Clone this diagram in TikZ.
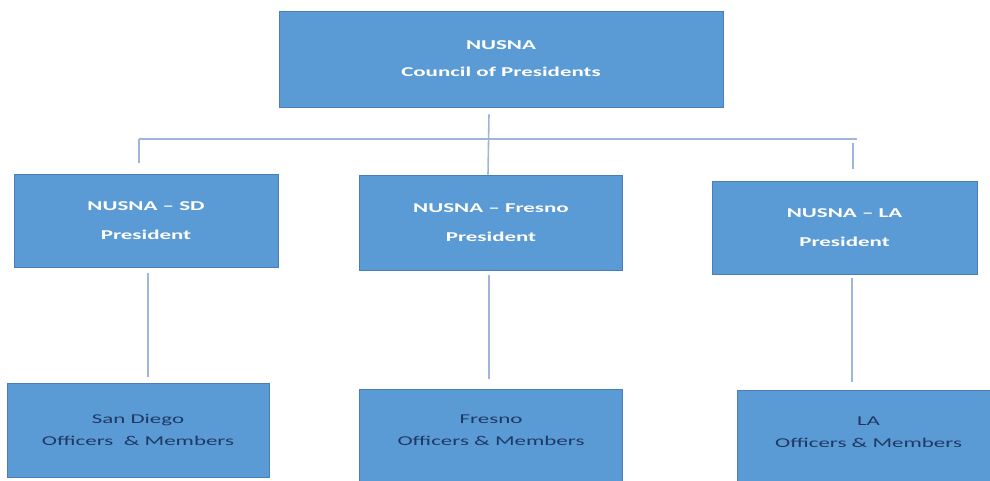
\documentclass[tikz,border=0pt]{standalone}
\usepackage{fontspec}
\setmainfont{Carlito}[FakeStretch=1.7]
\definecolor{boxfill}{HTML}{5B9BD5}
\definecolor{boxedge}{HTML}{4A7EBB}
\definecolor{linkcol}{HTML}{9FB6DA}
\definecolor{navy}{HTML}{1F3864}
\tikzset{
  box/.style={draw=boxedge, line width=0.8pt, fill=boxfill, inner sep=0pt, align=center},
  headtext/.style={text=white, font=\bfseries\fontsize{13.5}{27}\selectfont},
  midtext/.style={text=white, font=\bfseries\fontsize{13.5}{29}\selectfont},
  lowtext/.style={text=navy, align=center, inner sep=0pt, font=\fontsize{13.5}{22}\selectfont},
  link/.style={draw=linkcol, line width=1.6pt}
}
\begin{document}
\begin{tikzpicture}[x=1pt,y=-1pt]
\useasboundingbox (0,0) rectangle (990,481);
\clip (0,0) rectangle (990,481);
% top
\node[box, headtext, minimum width=444, minimum height=96] (top) at (501,59) {NUSNA\\Council of Presidents};
% middle row
\node[box, midtext, minimum width=264, minimum height=93] (sd) at (146,220.5) {NUSNA – SD\\President};
\node[box, midtext, minimum width=263, minimum height=95] (fr) at (491,222.5) {NUSNA – Fresno\\President};
\node[box, midtext, minimum width=265, minimum height=93] (la) at (844.5,227.5) {NUSNA – LA\\President};
% bottom row
\node[box, lowtext, minimum width=262, minimum height=94] (sdm) at (138,430) {San Diego\\Officers\ \ \& Members};
\node[box, minimum width=263, minimum height=100,
  label={[lowtext, name=frmt, yshift=9pt]center:{Fresno\\Officers \& Members}}] (frm) at (491,439) {};
\node[box, minimum width=263, minimum height=100,
  label={[lowtext, name=lamt, yshift=8pt]center:{LA\\Officers \& Members}}] (lam) at (868.5,440) {};
% bus
\coordinate (busL) at (139,139);
\coordinate (busR) at (857,139);
\path[link] (busL) -- (busR);
% connectors
\path[link] ([yshift=-7pt]top.south -| 489,0) -- (fr.north -| 488,0);
\path[link] (busL) -- ([yshift=11pt]sd.north -| busL);
\path[link] ([yshift=-4pt]busR -| 853,0) -- ([yshift=12pt]la.north -| 853,0);
\path[link] ([yshift=-6pt]sd.south -| 148,0) -- ([yshift=6pt]sdm.north -| 148,0);
\path[link] ([yshift=-5pt]fr.south -| 489,0) -- ([yshift=10pt]frm.north -| 489,0);
\path[link] ([yshift=-4pt]la.south -| 852,0) -- ([yshift=8pt]lam.north -| 852,0);
\end{tikzpicture}
\end{document}
